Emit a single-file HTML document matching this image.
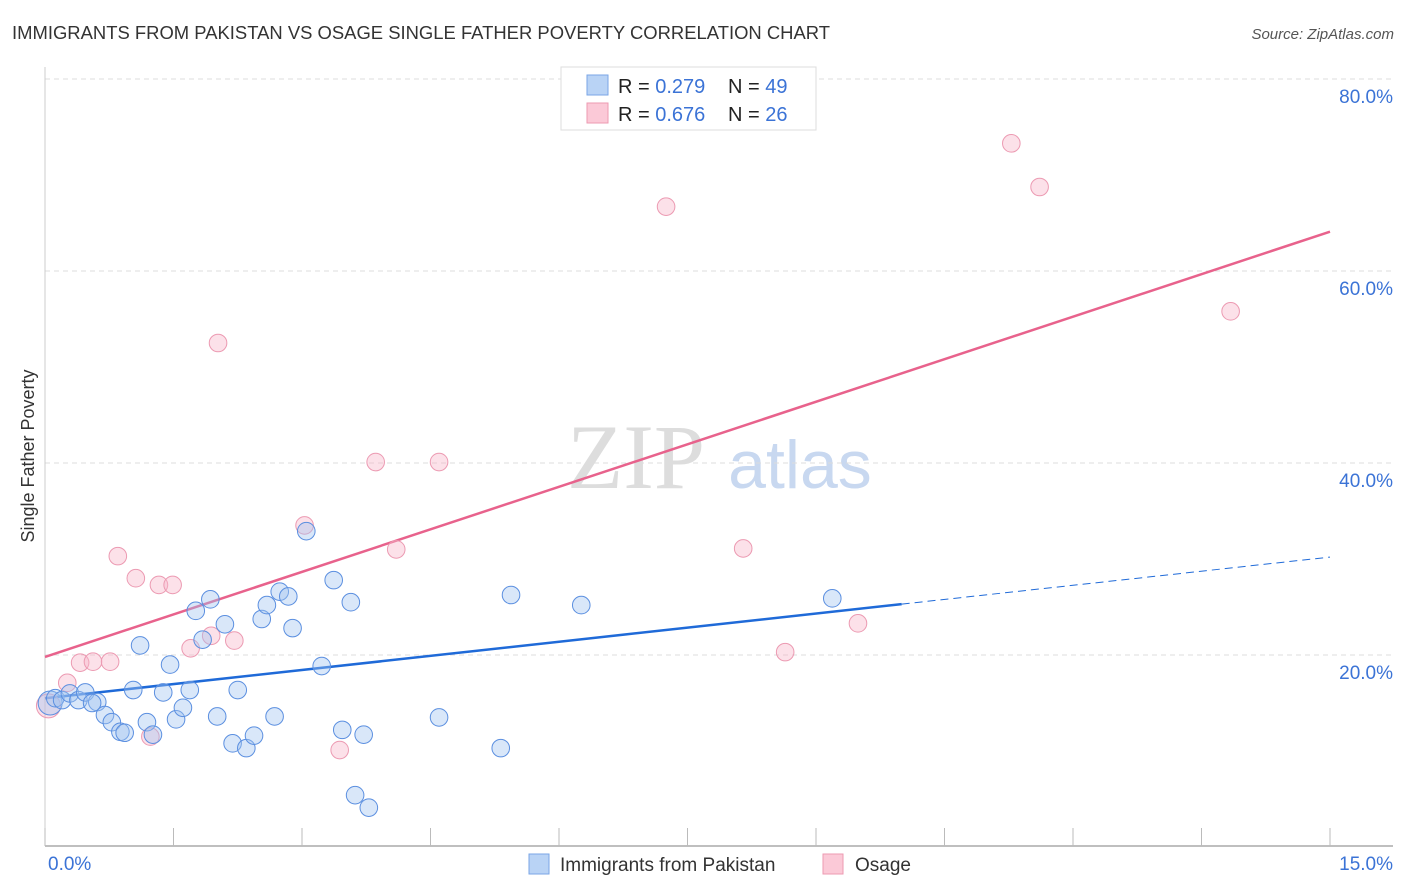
<!DOCTYPE html>
<html><head><meta charset="utf-8"><style>
body{margin:0;background:#fff;font-family:"Liberation Sans",sans-serif;}
svg{display:block}
</style></head><body>
<svg id="chart" width="1406" height="892" xmlns="http://www.w3.org/2000/svg">
<text x="12" y="39" font-size="18" fill="#333" textLength="818" lengthAdjust="spacingAndGlyphs">IMMIGRANTS FROM PAKISTAN VS OSAGE SINGLE FATHER POVERTY CORRELATION CHART</text>
<text x="1394" y="39" font-size="15" fill="#555" text-anchor="end" font-style="italic">Source: ZipAtlas.com</text>
<text transform="translate(34,456) rotate(-90)" font-size="18" fill="#333" text-anchor="middle">Single Father Poverty</text>
<g>
<text x="636" y="488" font-size="92" fill="#ddd" font-family="Liberation Serif, serif" text-anchor="middle">ZIP</text>
<text x="800" y="488" font-size="68" fill="#c8d8f0" text-anchor="middle">atlas</text>
</g>
<g id="grid"></g><g id="axes"></g><g id="trends"></g><g id="points"></g>
<g>
<rect x="561" y="67" width="255" height="63" fill="#fff" stroke="#ddd"/>
<rect x="587" y="75" width="21" height="20" fill="#b9d3f5" stroke="#7aa6e6"/>
<rect x="587" y="103" width="21" height="20" fill="#fbc9d7" stroke="#ec9ab2"/>
<text x="618" y="93" font-size="20" fill="#222">R = <tspan fill="#3b73d6">0.279</tspan><tspan x="728">N = </tspan><tspan fill="#3b73d6">49</tspan></text>
<text x="618" y="121" font-size="20" fill="#222">R = <tspan fill="#3b73d6">0.676</tspan><tspan x="728">N = </tspan><tspan fill="#3b73d6">26</tspan></text>
</g>
<g>
<rect x="529" y="854" width="20" height="20" fill="#b9d3f5" stroke="#7aa6e6"/>
<text x="560" y="871" font-size="19" fill="#333">Immigrants from Pakistan</text>
<rect x="823" y="854" width="20" height="20" fill="#fbc9d7" stroke="#ec9ab2"/>
<text x="855" y="871" font-size="19" fill="#333">Osage</text>
</g>
</svg>
<script>
const blueX=[0.06,0.12,0.20,0.29,0.39,0.47,0.61,0.55,0.70,0.78,0.88,0.93,1.03,1.11,1.19,1.26,1.38,1.46,1.53,1.61,1.69,1.76,1.84,1.93,2.01,2.10,2.19,2.25,2.35,2.44,2.53,2.59,2.68,2.74,2.84,2.89,3.05,3.23,3.37,3.47,3.57,3.62,3.72,3.78,4.60,5.32,5.44,6.26,9.19];
const blueY=[15.0,15.5,15.3,16.0,15.3,16.1,15.1,15.0,13.75,13.0,12.0,11.9,16.35,21.0,13.0,11.7,16.1,19.0,13.3,14.5,16.35,24.6,21.6,25.8,13.6,23.2,10.8,16.35,10.3,11.6,23.75,25.2,13.6,26.6,26.1,22.8,32.9,18.85,27.8,12.2,25.5,5.4,11.7,4.1,13.5,10.3,26.25,25.2,25.9];
const pinkX=[0.04,0.26,0.41,0.56,0.76,0.85,1.06,1.23,1.33,1.49,1.70,1.94,2.02,2.21,3.03,3.44,3.86,4.10,4.60,7.25,8.15,8.64,9.49,11.28,11.61,13.84];
const pinkY=[14.7,17.1,19.2,19.3,19.3,30.3,28.0,11.5,27.3,27.3,20.7,22.0,52.5,21.5,33.5,10.1,40.1,31.0,40.1,66.7,31.1,20.3,23.3,73.3,68.75,55.8];
const blueTrend=[15.5,30.2]; const blueSolidEnd=10.0;
const pinkTrend=[19.8,64.1];
const yTicks=[20,40,60,80];
const yTickLabels=["20.0%","40.0%","60.0%","80.0%"];
const xTickVals=[0,1.5,3,4.5,6,7.5,9,10.5,12,13.5,15];
const xEndLabels=["0.0%","15.0%"];
const NS="http://www.w3.org/2000/svg";
const X=v=>45+v/15*1285, Y=v=>847-v*9.6;
function mk(p,t,a){const e=document.createElementNS(NS,t);for(const k in a)e.setAttribute(k,a[k]);document.getElementById(p).appendChild(e);return e;}
yTicks.forEach((v,i)=>{
 const l=mk('grid','line',{x1:45,x2:1393,y1:Y(v),y2:Y(v),stroke:'#ddd','stroke-dasharray':'5,4'});
 
 
 const t=mk('grid','text',{x:1393,y:Y(v)+24,'font-size':19,fill:'#3b73d6','text-anchor':'end'});
 t.textContent=yTickLabels[i];
 
 
});
let a=mk('axes','line',{x1:45,x2:1393,y1:846,y2:846,stroke:'#aaa','stroke-width':1.5});


a=mk('axes','line',{x1:45,x2:45,y1:67,y2:846,stroke:'#ccc'});


xTickVals.forEach(v=>{const l=mk('axes','line',{x1:X(v),x2:X(v),y1:828,y2:846,stroke:'#bbb'});
 
 });
[[0,'start',48],[15,'end',1393]].forEach((d,i)=>{const t=mk('axes','text',{x:d[2],y:870,'font-size':19,fill:'#3b73d6','text-anchor':d[1]});t.textContent=xEndLabels[i];
 
 });
const bAt=x=>blueTrend[0]+(blueTrend[1]-blueTrend[0])*x/15;
let tl=mk('trends','line',{x1:X(0),y1:Y(pinkTrend[0]),x2:X(15),y2:Y(pinkTrend[1]),stroke:'#e8628c','stroke-width':2.5});


tl=mk('trends','line',{x1:X(0),y1:Y(bAt(0)),x2:X(blueSolidEnd),y2:Y(bAt(blueSolidEnd)),stroke:'#1f6ad8','stroke-width':2.5});


tl=mk('trends','line',{x1:X(blueSolidEnd),y1:Y(bAt(blueSolidEnd)),x2:X(15),y2:Y(bAt(15)),stroke:'#1f6ad8','stroke-width':1,'stroke-dasharray':'8,5'});


pinkX.forEach((x,i)=>{const c=mk('points','circle',{cx:X(x),cy:Y(pinkY[i]),r:i==0?12:8.8,fill:'rgba(248,180,200,0.4)',stroke:'#ec9ab2','stroke-width':1});
 
 });
blueX.forEach((x,i)=>{const c=mk('points','circle',{cx:X(x),cy:Y(blueY[i]),r:i==0?12:8.8,fill:'rgba(160,195,240,0.4)',stroke:'#5b8fe0','stroke-width':1});
 
 });
</script>
</body></html>
